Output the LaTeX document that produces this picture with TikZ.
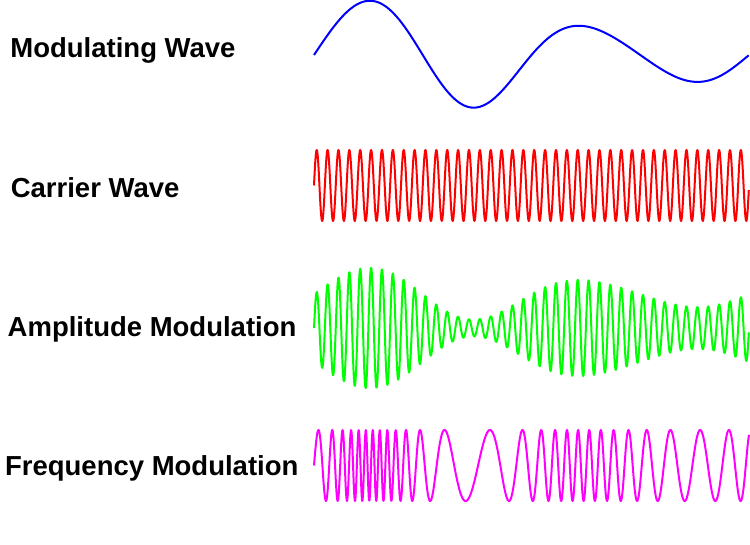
\documentclass[tikz,border=0pt]{standalone}
\usepackage{fontspec}
\setmainfont{Liberation Sans}
\usetikzlibrary{positioning}

\definecolor{modblue}{RGB}{0,0,255}
\definecolor{carred}{RGB}{255,0,0}
\definecolor{amgreen}{RGB}{0,255,0}
\definecolor{fmpink}{RGB}{255,0,255}

\tikzset{
  wavelabel/.style={anchor=base west, inner sep=0pt, font=\fontsize{13.75}{16}\selectfont\bfseries},
  wave/.style={line width=1pt, line join=round},
  declare function={
    modw(\u)=0.75*sin(720*\u)+(sin(900*\u)+sin(540*\u))/(2*pi)-(sin(1260*\u)+sin(180*\u))/(6*pi);
  }
}

\begin{document}
\begin{tikzpicture}[x=0.5pt,y=-0.5pt]
\useasboundingbox (0,0) rectangle (750,545);

\node[wavelabel] (modlabel) at (10,57.7) {Modulating Wave};
\node[wavelabel] (carlabel) at (10.4,197.7) {Carrier Wave};
\node[wavelabel] (amlabel) at (7.3,336) {Amplitude Modulation};
\node[wavelabel] (fmlabel) at (4.7,475.7) {Frequency Modulation};

% modulating wave
\draw[wave,modblue] plot[domain=0:1,samples=300] ({314+435*\x},{55-54*modw(\x)});

% carrier, 40 cycles
\draw[wave,carred] plot[domain=0:1,samples=1200] ({314+435*\x},{185.5-35.5*sin(14400*\x)});

% AM
\draw[wave,amgreen] plot[domain=0:1,samples=1200] ({314+435*\x},{328-34*(1+0.77*modw(\x))*sin(14400*\x)});

% FM, phase summed step by step
\gdef\fmpath{(314,465.5)}
\gdef\fmph{0}
\foreach \k in {1,...,1200}{
  \pgfmathparse{\fmph+6.9*exp(modw((\k-0.5)/1200))}
  \xdef\fmph{\pgfmathresult}
  \pgfmathparse{314+435*(\k/1200)}\let\fmx\pgfmathresult
  \pgfmathparse{465.5-35.5*sin(\fmph)}\let\fmy\pgfmathresult
  \xdef\fmpath{\fmpath -- (\fmx,\fmy)}
}
\draw[wave,fmpink] \fmpath;

\end{tikzpicture}
\end{document}
